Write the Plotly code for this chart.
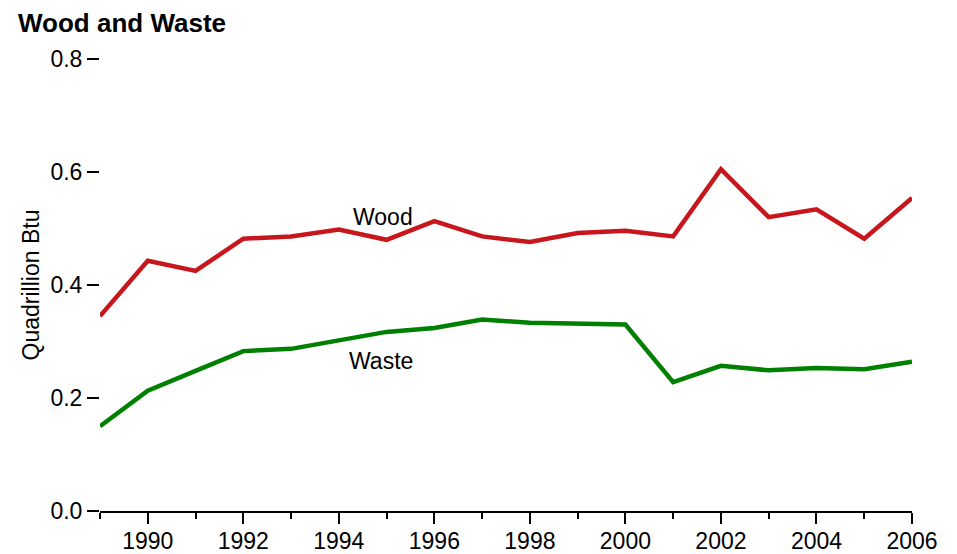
import plotly.graph_objects as go

years = list(range(1989, 2007))
wood = [0.345, 0.443, 0.425, 0.482, 0.486, 0.498, 0.480, 0.513, 0.486,
        0.476, 0.492, 0.496, 0.486, 0.605, 0.520, 0.534, 0.482, 0.554]
waste = [0.150, 0.213, 0.248, 0.283, 0.287, 0.301, 0.317, 0.324, 0.339,
         0.333, 0.332, 0.330, 0.228, 0.257, 0.249, 0.253, 0.251, 0.264]

FONT = "Liberation Sans, Arial, sans-serif"
W, H = 949, 546  # page body has an 8px default margin

fig = go.Figure()
fig.add_trace(go.Scatter(x=years, y=wood, mode="lines", name="Wood",
                         line=dict(color="#C8161D", width=4.5)))
fig.add_trace(go.Scatter(x=years, y=waste, mode="lines", name="Waste",
                         line=dict(color="#008000", width=4.5)))

fig.update_layout(
    width=W, height=H,
    margin=dict(l=92, r=45, t=51, b=43, pad=0, autoexpand=False),
    paper_bgcolor="white", plot_bgcolor="white",
    showlegend=False,
    font=dict(family=FONT, size=23, color="black"),
    title=dict(text="<b>Wood and Waste</b>", font=dict(family=FONT, size=26, color="black"),
               xref="container", x=10 / W, xanchor="left",
               yref="container", y=1 - 14.5 / H, yanchor="middle"),
    annotations=[
        dict(x=1994.92, y=0.521, xref="x", yref="y", text="Wood", showarrow=False,
             font=dict(family=FONT, size=23, color="black")),
        dict(x=1994.89, y=0.265, xref="x", yref="y", text="Waste", showarrow=False,
             font=dict(family=FONT, size=23, color="black")),
    ],
)

fig.update_xaxes(range=[1989, 2006], showgrid=False, zeroline=False, automargin=False,
                 showline=True, linecolor="black", linewidth=2,
                 ticks="outside", ticklen=11, tickwidth=2, tickcolor="black",
                 tick0=1990, dtick=2, tickfont=dict(size=23),
                 ticklabelstandoff=-3,
                 minor=dict(ticks="outside", ticklen=6, tickwidth=2, tickcolor="black",
                            tick0=1989, dtick=1))
fig.update_yaxes(range=[0, 0.8], showgrid=False, zeroline=False, showline=False,
                 automargin=False,
                 ticks="outside", ticklen=12, tickwidth=2, tickcolor="black",
                 tick0=0, dtick=0.2, tickformat=".1f", tickfont=dict(size=23),
                 title=dict(text="Quadrillion Btu", font=dict(size=23), standoff=4))

fig.write_html("out.html")
